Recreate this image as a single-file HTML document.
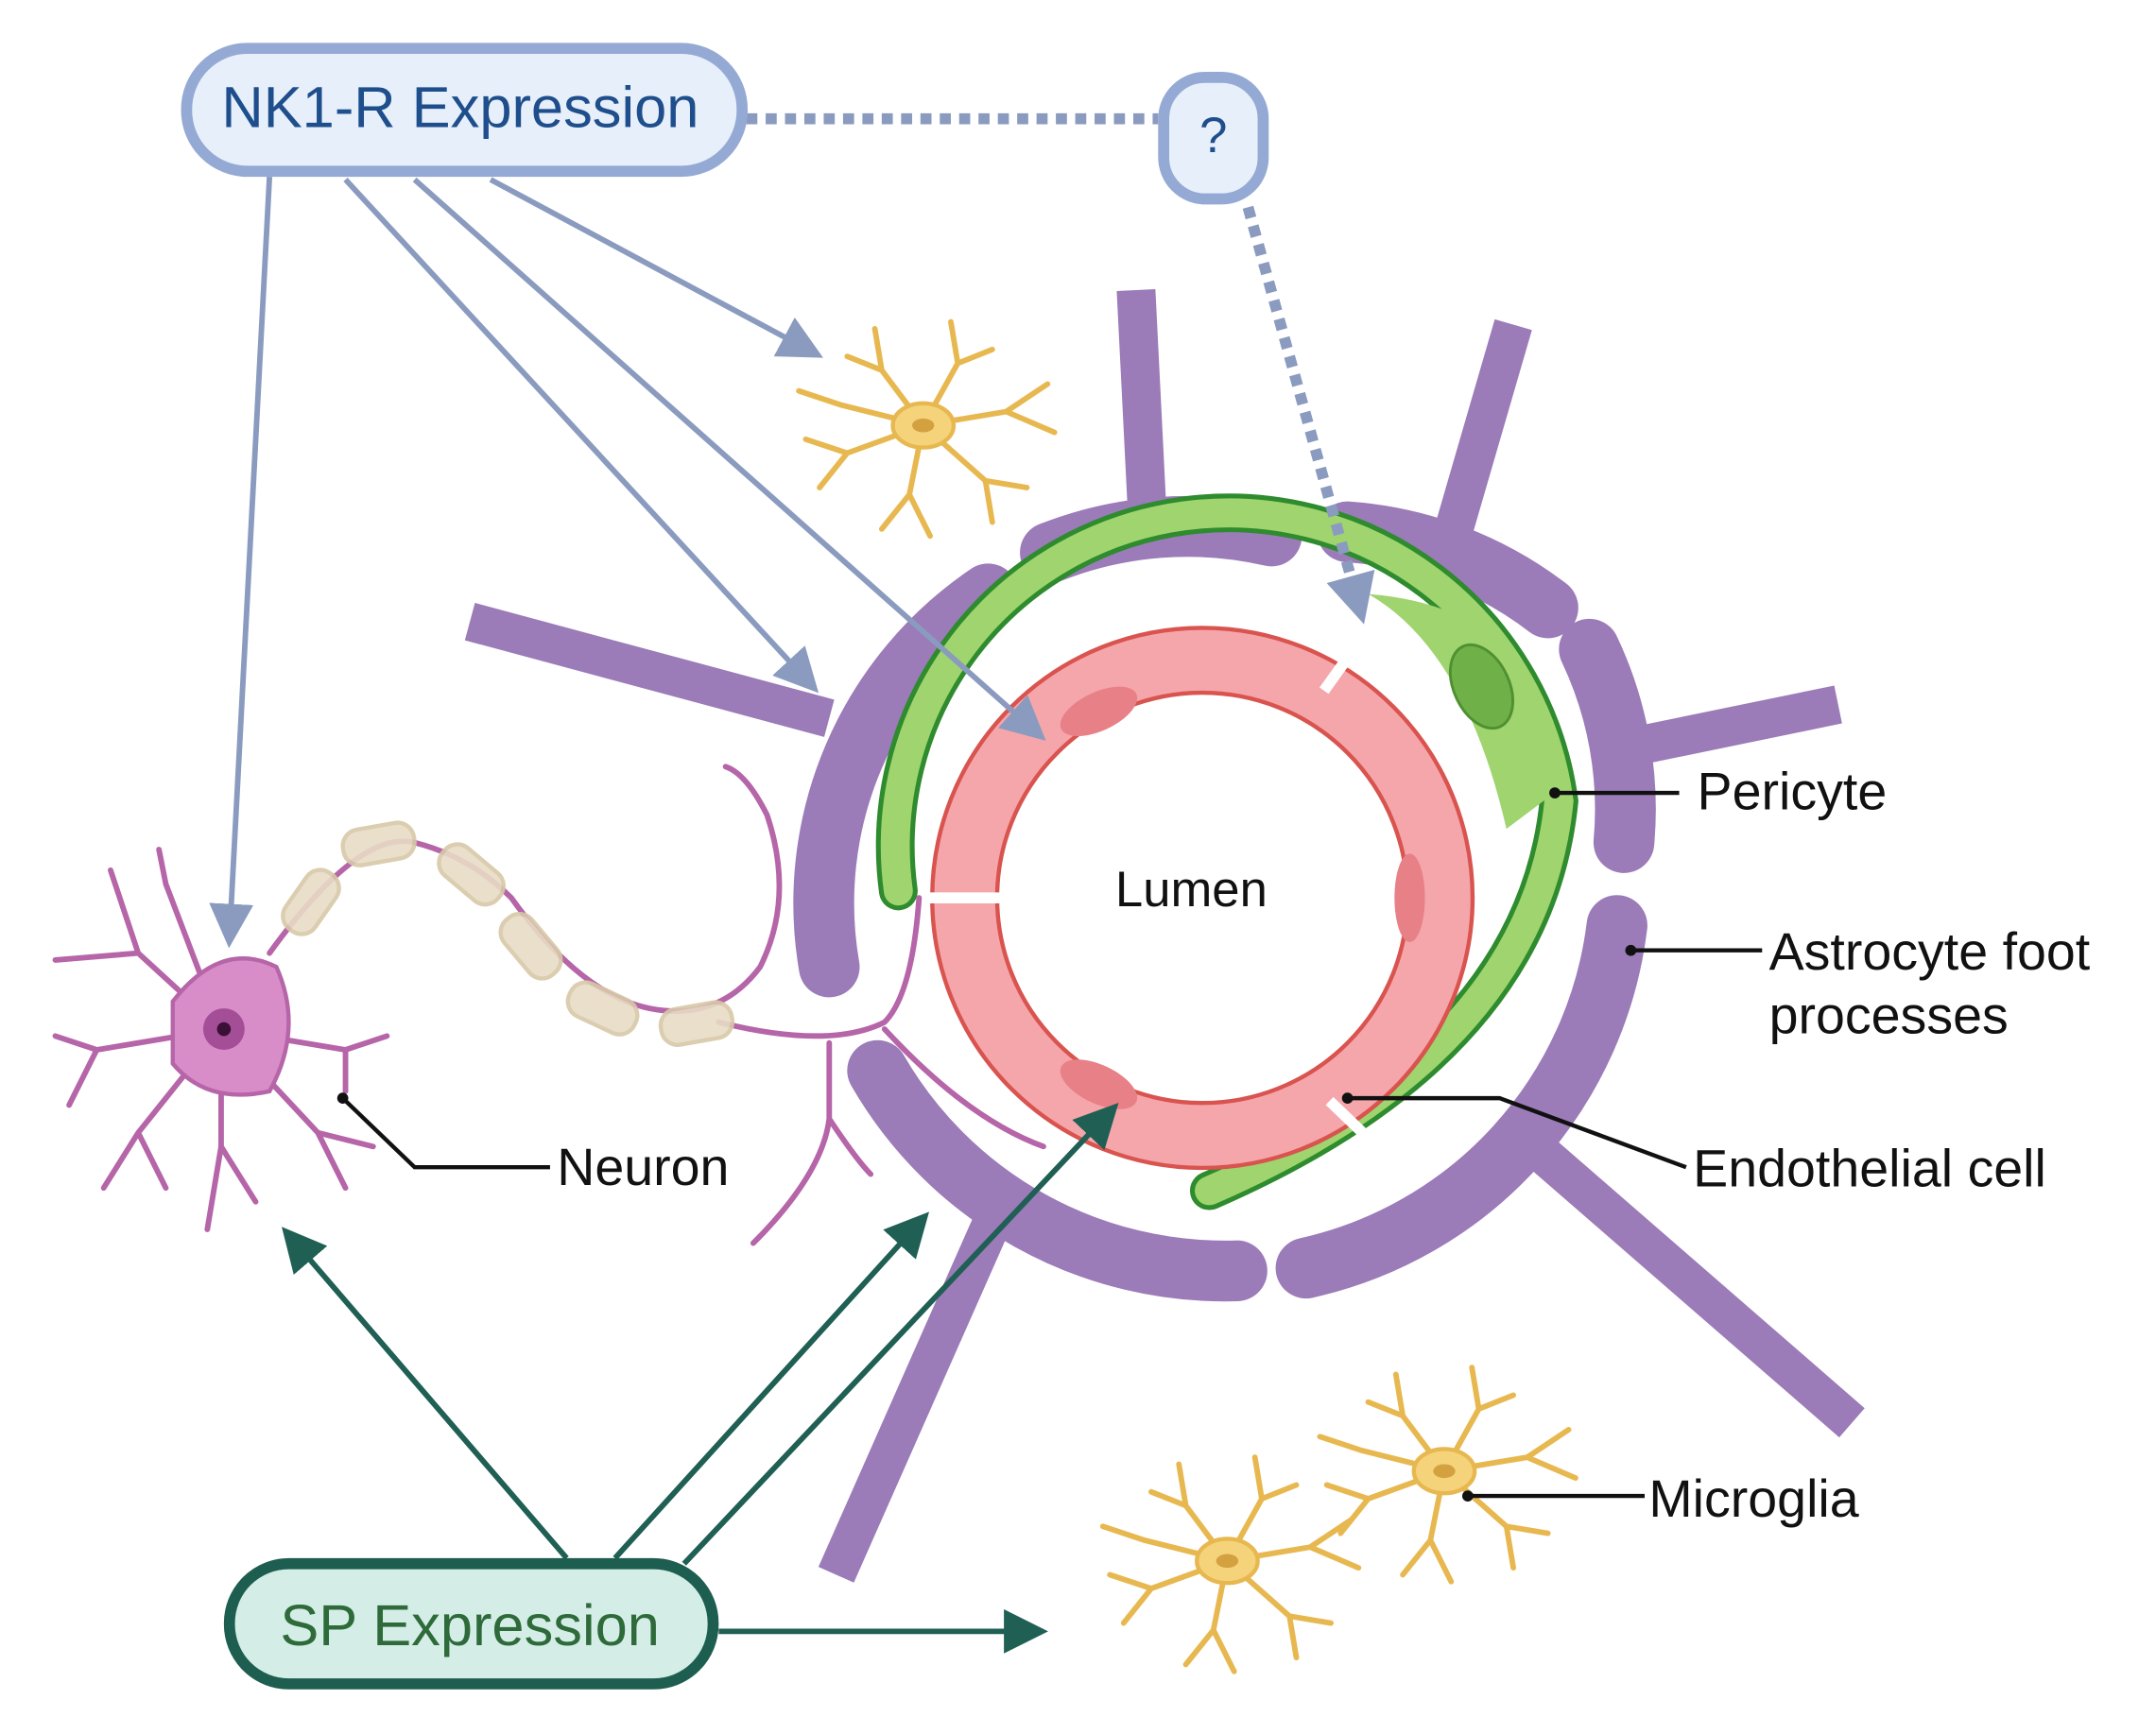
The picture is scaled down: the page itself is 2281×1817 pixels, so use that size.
<!DOCTYPE html>
<html><head><meta charset="utf-8"><style>
html,body{margin:0;padding:0;background:#fff;}
svg{display:block;}
text{font-family:"Liberation Sans",sans-serif;}
</style></head><body>
<svg width="2281" height="1817" viewBox="0 0 1560 1243" preserveAspectRatio="none" xmlns="http://www.w3.org/2000/svg">
<defs>
<marker id="ab" viewBox="0 0 10 10" refX="8" refY="5" markerWidth="8" markerHeight="8" orient="auto" markerUnits="strokeWidth"><path d="M0,0 L10,5 L0,10z" fill="#8a9bbf"/></marker>
<marker id="ag" viewBox="0 0 10 10" refX="8" refY="5" markerWidth="8" markerHeight="8" orient="auto" markerUnits="strokeWidth"><path d="M0,0 L10,5 L0,10z" fill="#1f5f54"/></marker>
<marker id="ad" viewBox="0 0 10 10" refX="8" refY="5" markerWidth="4.5" markerHeight="4.5" orient="auto" markerUnits="strokeWidth"><path d="M0,0 L10,5 L0,10z" fill="#8a9bbf"/></marker>
<g id="mg" stroke="#e8b850" stroke-width="4" fill="none" stroke-linecap="round">
<path d="M0,0 L-30,-40 L-35,-70 M-30,-40 L-55,-50 M0,0 L25,-45 L20,-75 M25,-45 L50,-55 M0,0 L60,-10 L90,-30 M60,-10 L95,5 M0,0 L45,40 L50,70 M45,40 L75,45 M0,0 L-10,50 L-30,75 M-10,50 L5,80 M0,0 L-55,20 L-85,10 M-55,20 L-75,45 M0,0 L-60,-15 L-90,-25"/>
<ellipse cx="0" cy="0" rx="22" ry="16" fill="#f5d37a" stroke="#e8b850" stroke-width="3"/>
<ellipse cx="0" cy="0" rx="8" ry="5" fill="#d4a140" stroke="none"/>
</g>
</defs>

<g stroke="#9b7bb8" stroke-width="28" stroke-linecap="butt" fill="none">
<path d="M822,210 L830,370"/>
<path d="M1095,235 L1050,390"/>
<path d="M340,450 L600,520"/>
<path d="M1330,510 L1160,545"/>
<path d="M1340,1030 L1110,830"/>
<path d="M605,1140 L720,880"/>
</g>
<g stroke="#9b7bb8" stroke-width="44" stroke-linecap="round" fill="none">
<path d="M600,700 A270,270 0 0 1 715,430"/>
<path d="M760,400 A270,270 0 0 1 920,388"/>
<path d="M975,385 A270,270 0 0 1 1120,440"/>
<path d="M1150,470 A270,270 0 0 1 1175,610"/>
<path d="M1170,670 A290,290 0 0 1 945,918"/>
<path d="M635,775 A290,290 0 0 0 895,920"/>
</g>

<path d="M650,645 A225,225 0 0 1 1128,580 Q1110,760 875,862" stroke="#2e8b2e" stroke-width="28" fill="none" stroke-linecap="round"/>
<path d="M650,645 A225,225 0 0 1 1128,580 Q1110,760 875,862" stroke="#9fd46f" stroke-width="21" fill="none" stroke-linecap="round"/>
<path d="M990,430 Q1120,440 1130,570 L1090,600 Q1060,470 990,430z" fill="#9fd46f"/>
<ellipse cx="1072" cy="497" rx="20" ry="32" transform="rotate(-25 1072 497)" fill="#6fb048" stroke="#4f9030" stroke-width="2"/>

<circle cx="870" cy="650" r="172" fill="none" stroke="#d9534f" stroke-width="50"/>
<circle cx="870" cy="650" r="172" fill="none" stroke="#f4a6aa" stroke-width="44"/>
<g stroke="#fff" stroke-width="8">
<line x1="958" y1="500" x2="978" y2="472"/>
<line x1="672" y1="650" x2="725" y2="650"/>
<line x1="962" y1="797" x2="988" y2="822"/>
</g>
<ellipse cx="795" cy="515" rx="30" ry="14" transform="rotate(-25 795 515)" fill="#e88088"/>
<ellipse cx="1020" cy="650" rx="11" ry="32" fill="#e88088"/>
<ellipse cx="795" cy="785" rx="30" ry="14" transform="rotate(25 795 785)" fill="#e88088"/>
<text x="862" y="656" font-size="36" text-anchor="middle" fill="#111">Lumen</text>

<g stroke="#b565a8" stroke-width="4" fill="none" stroke-linecap="round">
<path d="M195,690 Q260,600 300,610 Q340,620 370,650 Q420,720 470,730 Q520,740 550,700 Q575,650 555,590 Q540,560 525,555"/>
<path d="M520,740 Q600,760 640,740 Q660,720 665,650"/>
<path d="M600,755 L600,810 Q595,850 545,900 M600,810 Q620,840 630,850 M640,745 Q700,810 755,830"/>
<path d="M160,745 L100,690 L40,695 M100,690 L80,630 M160,745 L120,640 L115,615 M160,745 L70,760 L40,750 M70,760 L50,800 M160,745 L100,820 L75,860 M100,820 L120,860 M160,745 L160,830 L150,890 M160,830 L185,870 M160,745 L230,820 L250,860 M230,820 L270,830 M160,745 L250,760 L280,750 M250,760 L250,790"/>
</g>
<path d="M125,725 Q160,680 200,700 Q220,745 195,790 Q150,800 125,770z" fill="#d88cc8" stroke="#b565a8" stroke-width="3"/>
<circle cx="162" cy="745" r="15" fill="#a34e96"/><circle cx="162" cy="745" r="5" fill="#3a1036"/>
<g fill="#e8dcc6" stroke="#d8c8a8" stroke-width="3" opacity="0.9">
<rect x="200" y="640" width="50" height="26" rx="12" transform="rotate(-55 225 653)"/>
<rect x="248" y="598" width="52" height="26" rx="12" transform="rotate(-10 274 611)"/>
<rect x="315" y="620" width="52" height="26" rx="12" transform="rotate(40 341 633)"/>
<rect x="358" y="672" width="52" height="26" rx="12" transform="rotate(50 384 685)"/>
<rect x="410" y="717" width="52" height="26" rx="12" transform="rotate(25 436 730)"/>
<rect x="478" y="728" width="52" height="26" rx="12" transform="rotate(-10 504 741)"/>
</g>

<use href="#mg" transform="translate(668,308)"/>
<use href="#mg" transform="translate(888,1130)"/>
<use href="#mg" transform="translate(1045,1065)"/>

<g stroke="#8a9bbf" stroke-width="4" fill="none" marker-end="url(#ab)">
<line x1="195" y1="128" x2="166" y2="680"/>
<line x1="250" y1="130" x2="588" y2="497"/>
<line x1="300" y1="130" x2="752" y2="532"/>
<line x1="355" y1="130" x2="590" y2="256"/>
</g>
<line x1="540" y1="86" x2="838" y2="86" stroke="#8a9bbf" stroke-width="8" stroke-dasharray="8,6"/>
<line x1="903" y1="150" x2="985" y2="445" stroke="#8a9bbf" stroke-width="8" stroke-dasharray="8,6" marker-end="url(#ad)"/>

<rect x="135" y="35" width="402" height="89" rx="44" fill="#e6effa" stroke="#94a9d4" stroke-width="8"/>
<text x="333" y="92" font-size="42" text-anchor="middle" fill="#1e4e8c">NK1-R Expression</text>
<rect x="842" y="56" width="72" height="88" rx="30" fill="#e6effa" stroke="#94a9d4" stroke-width="8"/>
<text x="878" y="110" font-size="36" text-anchor="middle" fill="#1e4e8c">?</text>

<g stroke="#1f5f54" stroke-width="4" fill="none" marker-end="url(#ag)">
<line x1="410" y1="1128" x2="208" y2="893"/>
<line x1="445" y1="1128" x2="668" y2="882"/>
<line x1="495" y1="1132" x2="805" y2="803"/>
<line x1="520" y1="1181" x2="752" y2="1181"/>
</g>
<rect x="166" y="1132" width="350" height="87" rx="43" fill="#d4eee7" stroke="#1e5e50" stroke-width="8"/>
<text x="340" y="1191" font-size="42" text-anchor="middle" fill="#2e6a3a">SP Expression</text>

<g stroke="#111" stroke-width="3" fill="none">
<path d="M1125,574 L1215,574"/>
<path d="M1180,688 L1275,688"/>
<path d="M975,795 L1085,795 L1220,845"/>
<path d="M1062,1083 L1190,1083"/>
<path d="M248,795 L300,845 L398,845"/>
</g>
<g fill="#111"><circle cx="1125" cy="574" r="4"/><circle cx="1180" cy="688" r="4"/><circle cx="975" cy="795" r="4"/><circle cx="1062" cy="1083" r="4"/><circle cx="248" cy="795" r="4"/></g>
<g font-size="38" fill="#111">
<text x="1228" y="586">Pericyte</text>
<text x="1280" y="702">Astrocyte foot</text>
<text x="1280" y="748">processes</text>
<text x="1225" y="859">Endothelial cell</text>
<text x="1193" y="1098">Microglia</text>
<text x="403" y="858">Neuron</text>
</g>
</svg>
</body></html>
